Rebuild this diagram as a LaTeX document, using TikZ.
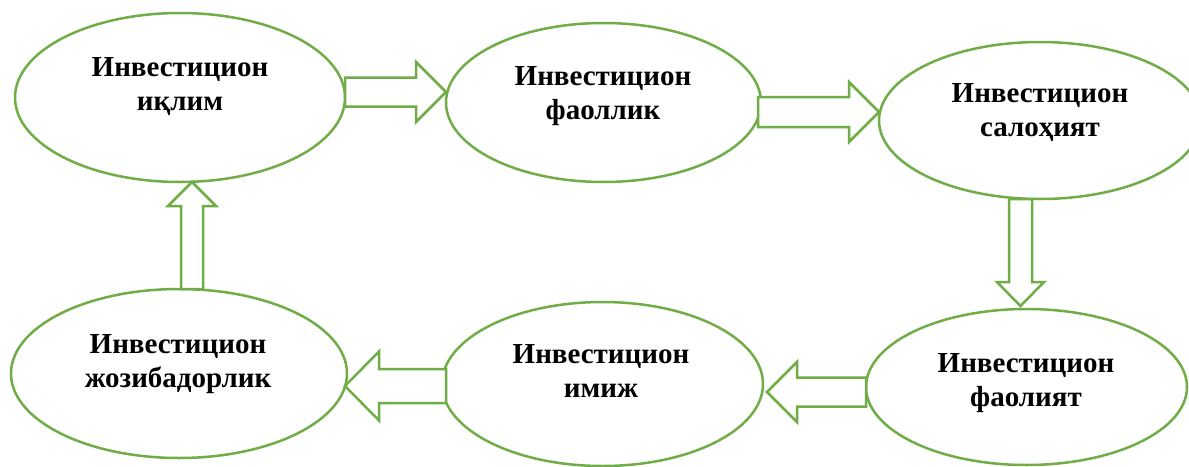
\documentclass[tikz,border=0pt]{standalone}
\usepackage{fontspec}
\setmainfont{Liberation Serif}
\usetikzlibrary{shapes.geometric,calc}
\definecolor{grn}{RGB}{112,173,71}
\tikzset{
  oval/.style={draw=grn, line width=2.5pt, ellipse, inner sep=0pt, outer sep=0pt},
  lbl/.style={align=center, font=\fontsize{29}{34}\selectfont\bfseries, inner sep=0pt},
  blk/.style={draw=grn, line width=2.5pt, line join=miter, fill=white}
}
% #1 start, #2 tip, #3 shaft half width, #4 head half width, #5 head length
\newcommand\blockarr[5]{%
  \path ($(#2)!#5!(#1)$) coordinate (H);
  \draw[blk] ($(#1)!#3!90:(#2)$) -- ($(H)!#3!90:(#2)$) -- ($(H)!#4!90:(#2)$) -- (#2)
    -- ($(H)!#4!-90:(#2)$) -- ($(H)!#3!-90:(#2)$) -- ($(#1)!#3!-90:(#2)$) -- cycle;
}
\begin{document}
\begin{tikzpicture}[x=1pt,y=-1pt]
\useasboundingbox (0,0) rectangle (1189,466);
\fill[white] (0,0) rectangle (1189,466);
% ellipses
\node[oval, minimum width=330pt, minimum height=169pt] (e1) at (180,97.5) {};
\node[oval, minimum width=315pt, minimum height=159pt] (e2) at (603.5,102.5) {};
\node[oval, minimum width=322pt, minimum height=157pt] (e3) at (1040,120.5) {};
\node[oval, minimum width=321pt, minimum height=156pt] (e4) at (1026.5,387) {};
\node[oval, minimum width=321pt, minimum height=164pt] (e5) at (602.5,384) {};
\node[oval, minimum width=336pt, minimum height=169pt] (e6) at (179,373.5) {};
% labels
\node[lbl] (t1) at (180,87) {\strut Инвестицион\\\strut иқлим};
\node[lbl] (t2) at (603,96) {\strut Инвестицион\\\strut фаоллик};
\node[lbl] (t3) at (1040,113) {\strut Инвестицион\\\strut салоҳият};
\node[lbl] (t4) at (1026,383) {\strut Инвестицион\\\strut фаолият};
\node[lbl] (t5) at (601,374) {\strut Инвестицион\\\strut имиж};
\node[lbl] (t6) at (178,363.5) {\strut Инвестицион\\\strut жозибадорлик};
% connector end points
\coordinate (a1s) at (e1.east |- 0,92);
\coordinate (a1t) at (e2.west |- 0,92);
\coordinate (a2s) at ($(e2.east |- 0,112)+(-3,0)$);
\coordinate (a2t) at (e3.west |- 0,112);
\coordinate (a3s) at (e3.south -| 1020.5,0);
\coordinate (a3t) at ($(e4.north -| 1020.5,0)+(0,-3)$);
\coordinate (a4s) at (e4.west |- 0,392);
\coordinate (a4t) at ($(e5.east |- 0,392)+(4,0)$);
\coordinate (a5s) at ($(e5.west |- 0,386)+(4,0)$);
\coordinate (a5t) at ($(e6.east |- 0,386)+(-2,0)$);
\coordinate (a6s) at (e6.north -| 192,0);
\coordinate (a6t) at (e1.south -| 192,0);
% connectors
\blockarr{a1s}{a1t}{14.5pt}{30pt}{30pt}
\blockarr{a2s}{a2t}{15pt}{30pt}{30pt}
\blockarr{a3s}{a3t}{11.5pt}{23.5pt}{24pt}
\blockarr{a4s}{a4t}{14.5pt}{30pt}{30pt}
\blockarr{a5s}{a5t}{17pt}{34.5pt}{34pt}
\blockarr{a6s}{a6t}{11pt}{24pt}{24pt}
\end{tikzpicture}
\end{document}
